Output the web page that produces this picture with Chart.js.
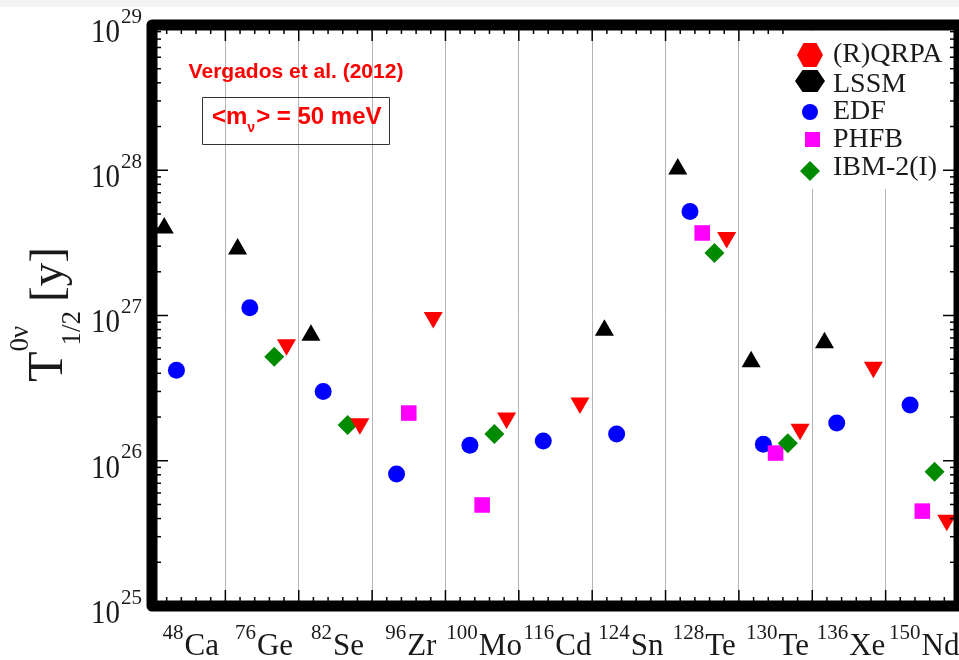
<!DOCTYPE html>
<html>
<head>
<meta charset="utf-8">
<script src="https://cdn.jsdelivr.net/npm/chart.js@4.4.0/dist/chart.umd.min.js"></script>
<style>
  html, body { margin: 0; padding: 0; background: #fff; overflow: hidden; }
  canvas { display: block; }
</style>
</head>
<body>
<canvas id="halfLife" width="959" height="660"></canvas>
<script>
// nuclei along the x axis
const MASS = ['48', '76', '82', '96', '100', '116', '124', '128', '130', '136', '150'];
const ELEMENT = ['Ca', 'Ge', 'Se', 'Zr', 'Mo', 'Cd', 'Sn', 'Te', 'Te', 'Xe', 'Nd'];

// T1/2 in years for <m_nu> = 50 meV (null = no point)
const QRPA = [null, 6.3e26, 1.8e26, 9.7e26, 1.97e26, 2.5e26, null, 3.45e27, 1.65e26, 4.4e26, 3.9e25];
const LSSM = [4.0e27, 2.87e27, 7.3e26, null, null, null, 7.9e26, 1.02e28, 4.8e26, 6.5e26, null];
const EDF = [4.2e26, 1.13e27, 3.0e26, 8.1e25, 1.28e26, 1.37e26, 1.53e26, 5.2e27, 1.30e26, 1.82e26, 2.42e26];
const PHFB = [null, null, null, 2.13e26, 4.96e25, null, null, 3.7e27, 1.13e26, null, 4.5e25];
const IBM2 = [null, 5.2e26, 1.76e26, null, 1.53e26, null, null, 2.69e27, 1.32e26, null, 8.4e25];

const DECADES = [25, 26, 27, 28, 29];

const SERIF = "'Liberation Serif', 'Times New Roman', serif";
const SANS = "'Liberation Sans', Arial, sans-serif";

const SERIES = [
    { label: '(R)QRPA', values: QRPA, slot: 5, color: '#ff0000', style: 'triangle', rot: 180, r: 11, order: 0 },
    { label: 'LSSM', values: LSSM, slot: 1, color: '#000000', style: 'triangle', rot: 0, r: 11, order: 4 },
    { label: 'EDF', values: EDF, slot: 2, color: '#0000ff', style: 'circle', rot: 0, r: 8.5, order: 3 },
    { label: 'PHFB', values: PHFB, slot: 3, color: '#ff00ff', style: 'rect', rot: 0, r: 11, order: 2 },
    { label: 'IBM-2(I)', values: IBM2, slot: 4, color: '#008a00', style: 'rectRot', rot: 0, r: 10, order: 1 }
];

const datasets = SERIES.map(s => ({
    label: s.label,
    data: s.values.map((v, i) => v == null ? null : { x: i + s.slot / 6, y: v }).filter(Boolean),
    pointStyle: s.style,
    pointRotation: s.rot,
    pointRadius: s.r,
    pointBackgroundColor: s.color,
    pointBorderWidth: 0,
    order: s.order
}));

function line(c, x1, y1, x2, y2) {
    c.beginPath();
    c.moveTo(x1, y1);
    c.lineTo(x2, y2);
    c.stroke();
}

function hexagon(c, x, y, hw, hh, color) {
    c.fillStyle = color;
    c.beginPath();
    c.moveTo(x - hw, y);
    c.lineTo(x - hw * 0.5, y - hh);
    c.lineTo(x + hw * 0.5, y - hh);
    c.lineTo(x + hw, y);
    c.lineTo(x + hw * 0.5, y + hh);
    c.lineTo(x - hw * 0.5, y + hh);
    c.closePath();
    c.fill();
}

const decorations = {
    id: 'decorations',
    beforeDraw(chart) {
        const c = chart.ctx;
        c.save();
        c.fillStyle = '#f3f3f3';
        c.fillRect(0, 0, chart.width, 7);
        c.restore();
    },
    beforeDatasetsDraw(chart) {
        // legend sits on a white patch over the grid
        const { ctx: c, chartArea: a } = chart;
        c.save();
        c.fillStyle = '#ffffff';
        c.fillRect(790, a.top + 6, a.right - 796, 189 - a.top - 6);
        c.restore();
    },
    afterDatasetsDraw(chart) {
        const { ctx: c, chartArea: a } = chart;
        const xs = chart.scales.x, ys = chart.scales.y;
        c.save();

        // inner ticks on all four sides
        c.strokeStyle = '#000';
        c.lineWidth = 1.5;
        for (let d = 25; d < 29; d++) {
            for (let m = 2; m <= 9; m++) {
                const py = ys.getPixelForValue(m * Math.pow(10, d));
                line(c, a.left, py, a.left + 9, py);
                line(c, a.right, py, a.right - 9, py);
            }
        }
        DECADES.forEach(d => {
            const py = ys.getPixelForValue(Math.pow(10, d));
            line(c, a.left, py, a.left + 16, py);
            line(c, a.right, py, a.right - 16, py);
        });
        for (let i = 0; i <= MASS.length * 5; i++) {
            const px = xs.getPixelForValue(i / 5);
            const len = i % 5 === 0 ? 16 : 9;
            line(c, px, a.bottom, px, a.bottom - len);
            if (px < 790) line(c, px, a.top, px, a.top + len);
        }

        // heavy frame
        c.lineWidth = 11;
        c.lineJoin = 'round';
        c.strokeRect(a.left, a.top, a.right - a.left, a.bottom - a.top);

        // y tick labels 10^n
        c.fillStyle = '#1a1a1a';
        DECADES.forEach(d => {
            const py = ys.getPixelForValue(Math.pow(10, d));
            c.textBaseline = 'middle';
            c.save();
            c.translate(a.left - 32, py + 8);
            c.scale(1, 1.15);
            c.font = `29px ${SERIF}`;
            c.textAlign = 'right';
            c.fillText('10', 0, 0);
            c.restore();
            c.font = `21px ${SERIF}`;
            c.textAlign = 'left';
            c.fillText(String(d), a.left - 31, py - 8);
        });

        // x labels with mass number superscripts
        c.textBaseline = 'alphabetic';
        c.textAlign = 'left';
        MASS.forEach((m, i) => {
            const cx = xs.getPixelForValue(i + 0.5) + 2;
            c.font = `21px ${SERIF}`;
            const wm = c.measureText(m).width;
            c.font = `31px ${SERIF}`;
            const we = c.measureText(ELEMENT[i]).width;
            const left = cx - (wm + we + 1) / 2;
            c.font = `21px ${SERIF}`;
            c.fillText(m, left, 639);
            c.font = `31px ${SERIF}`;
            c.fillText(ELEMENT[i], left + wm + 1, 655);
        });

        // y axis title
        c.save();
        c.translate(62, 382);
        c.rotate(-Math.PI / 2);
        c.font = `50px ${SERIF}`;
        c.fillText('T', 0, 0);
        const tw = c.measureText('T').width;
        c.font = `27px ${SERIF}`;
        c.fillText('0ν', tw, -34);
        c.fillText('1/2', tw + 6, 18);
        c.font = `47px ${SERIF}`;
        c.fillText('[y]', 80, 0);
        c.restore();

        // legend
        const mx = 810, tx = 833;
        const markY = [55, 81, 112, 140, 171];
        const textY = [55, 85, 112, 140, 168];
        hexagon(c, mx, markY[0], 13, 12, SERIES[0].color);
        hexagon(c, mx, markY[1], 15, 11, SERIES[1].color);
        c.fillStyle = SERIES[2].color;
        c.beginPath();
        c.arc(mx, markY[2], 8, 0, Math.PI * 2);
        c.fill();
        c.fillStyle = SERIES[3].color;
        c.fillRect(mx - 5, markY[3] - 8, 15, 15);
        c.fillStyle = SERIES[4].color;
        c.beginPath();
        c.moveTo(mx - 10, markY[4]);
        c.lineTo(mx, markY[4] - 10);
        c.lineTo(mx + 10, markY[4]);
        c.lineTo(mx, markY[4] + 10);
        c.closePath();
        c.fill();
        c.fillStyle = '#1a1a1a';
        c.font = `28px ${SERIF}`;
        c.textBaseline = 'middle';
        SERIES.forEach((s, i) => c.fillText(s.label, tx, textY[i]));

        // annotation
        c.fillStyle = '#ff0000';
        c.textBaseline = 'alphabetic';
        c.textAlign = 'center';
        c.font = `bold 21px ${SANS}`;
        c.fillText('Vergados et al. (2012)', 296, 78);
        c.strokeStyle = '#333';
        c.lineWidth = 1;
        c.strokeRect(202.5, 97.5, 187, 47);
        c.textAlign = 'left';
        let px = 212;
        c.font = `bold 24px ${SANS}`;
        c.fillText('<m', px, 124);
        px += c.measureText('<m').width;
        c.font = `bold 14px ${SANS}`;
        c.fillText('ν', px, 132);
        px += c.measureText('ν').width + 1;
        c.font = `bold 24px ${SANS}`;
        c.fillText('> = 50 meV', px, 124);

        c.restore();
    }
};

new Chart(document.getElementById('halfLife').getContext('2d'), {
    type: 'scatter',
    data: { datasets },
    options: {
        responsive: false,
        animation: false,
        devicePixelRatio: 1,
        layout: { autoPadding: false, padding: { left: 152, top: 25, right: -2, bottom: 54 } },
        plugins: { legend: { display: false }, tooltip: { enabled: false } },
        scales: {
            x: {
                type: 'linear',
                min: 0,
                max: MASS.length,
                afterFit: s => { s.height = 0; },
                ticks: { display: false, stepSize: 1 },
                grid: { color: '#b5b5b5', lineWidth: 1, drawTicks: false },
                border: { display: false }
            },
            y: {
                type: 'logarithmic',
                min: 1e25,
                max: 1e29,
                afterFit: s => { s.width = 0; },
                ticks: { display: false },
                grid: { display: false },
                border: { display: false }
            }
        }
    },
    plugins: [decorations]
});
</script>
</body>
</html>
